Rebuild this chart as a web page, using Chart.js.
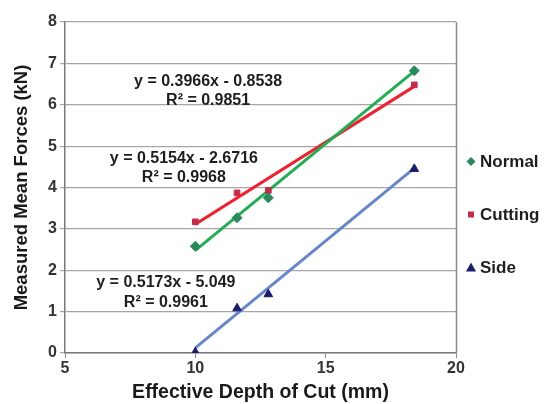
<!DOCTYPE html>
<html>
<head>
<meta charset="utf-8">
<script src="https://cdn.jsdelivr.net/npm/chart.js@4/dist/chart.umd.min.js"></script>
<style>
  html,body{margin:0;padding:0;background:#fff;}
  #wrap{width:545px;height:404px;position:relative;}
</style>
</head>
<body>
<div id="wrap"><canvas id="c" width="545" height="404"></canvas></div>
<script>
// ---- data ----
const seriesNames = ['Normal', 'Cutting', 'Side'];
const depthOfCut = [10, 11.6, 12.8, 18.4];            // mm
const normalForce = [2.58, 3.27, 3.75, 6.82];          // kN
const cuttingForce = [3.17, 3.87, 3.93, 6.48];         // kN
const sideForce = [0.02, 1.08, 1.42, 4.45];            // kN
// linear trendlines as printed on the chart
const trendSlopes = [0.5154, 0.3966, 0.5173];
const trendIntercepts = [-2.6716, -0.8538, -5.049];
const trendR2 = ['0.9968', '0.9851', '0.9961'];
const trendEqText = ['y = 0.5154x - 2.6716', 'y = 0.3966x - 0.8538', 'y = 0.5173x - 5.049'];
const xTicks = [5, 10, 15, 20];
const yTicks = [0, 1, 2, 3, 4, 5, 6, 7, 8];

// ---- styling / placement (not data) ----
const markerColors = ['#2a8a5e', '#c62a48', '#1b1b6e'];
const markerStyles = ['rectRot', 'rect', 'triangle'];
const markerRadius = [5, 4, 5];
const lineColors = ['#1fae52', '#f41f2c', '#6586cc'];
// equation label anchors in data units (centre of first and second line)
const labelX = [9.56, 10.49, 8.87];
const labelY1 = [4.71, 6.55, 1.69];
const labelY2 = [4.25, 6.11, 1.23];

const allY = [normalForce, cuttingForce, sideForce];
const FONT = '"Liberation Sans", Arial, Helvetica, sans-serif';

const datasets = [];
// trendlines (drawn underneath)
allY.forEach((ys, i) => {
  const x0 = Math.min(...depthOfCut), x1 = Math.max(...depthOfCut);
  datasets.push({
    label: seriesNames[i] + ' trend',
    data: [x0, x1].map(x => ({x: x, y: trendSlopes[i] * x + trendIntercepts[i]})),
    showLine: true,
    borderColor: lineColors[i],
    borderWidth: 3,
    pointRadius: 0,
    pointHoverRadius: 0,
    fill: false,
    order: 2
  });
});
// markers
allY.forEach((ys, i) => {
  datasets.push({
    label: seriesNames[i],
    data: depthOfCut.map((x, k) => ({x: x, y: ys[k]})),
    showLine: false,
    pointStyle: markerStyles[i],
    pointRadius: markerRadius[i],
    backgroundColor: markerColors[i],
    borderColor: markerColors[i],
    borderWidth: 1,
    order: 1
  });
});

const framePlugin = {
  id: 'frame',
  beforeDatasetsDraw(chart) {
    const {ctx, chartArea: a} = chart;
    ctx.save();
    ctx.strokeStyle = '#8a8a8a';
    ctx.lineWidth = 1.5;
    ctx.beginPath();
    ctx.moveTo(a.right + 0.5, a.top);
    ctx.lineTo(a.right + 0.5, a.bottom);
    ctx.stroke();
    ctx.restore();
  }
};

const labelsPlugin = {
  id: 'eqLabels',
  afterDatasetsDraw(chart) {
    const {ctx} = chart;
    const xs = chart.scales.x, ys = chart.scales.y;
    ctx.save();
    ctx.fillStyle = '#1e1e1e';
    ctx.font = 'bold 16px ' + FONT;
    ctx.textAlign = 'center';
    ctx.textBaseline = 'middle';
    for (let i = 0; i < trendEqText.length; i++) {
      const px = xs.getPixelForValue(labelX[i]);
      ctx.fillText(trendEqText[i], px, ys.getPixelForValue(labelY1[i]));
      ctx.fillText('R\u00B2 = ' + trendR2[i], px, ys.getPixelForValue(labelY2[i]));
    }
    ctx.restore();
  }
};

const legendPlugin = {
  id: 'sideLegend',
  afterDraw(chart) {
    const {ctx, chartArea: a} = chart;
    const mid = (a.top + a.bottom) / 2;
    const gap = 53;
    const startY = mid - 26;
    ctx.save();
    ctx.font = 'bold 17px ' + FONT;
    ctx.textBaseline = 'middle';
    ctx.textAlign = 'left';
    for (let i = 0; i < seriesNames.length; i++) {
      const cy = startY + i * gap;
      const mx = a.right + 15;
      ctx.fillStyle = markerColors[i];
      ctx.beginPath();
      if (markerStyles[i] === 'rectRot') {
        ctx.moveTo(mx, cy - 4.5); ctx.lineTo(mx + 4.5, cy); ctx.lineTo(mx, cy + 4.5); ctx.lineTo(mx - 4.5, cy);
      } else if (markerStyles[i] === 'rect') {
        ctx.rect(mx - 3, cy - 3, 6, 6);
      } else {
        ctx.moveTo(mx, cy - 5); ctx.lineTo(mx + 5, cy + 4); ctx.lineTo(mx - 5, cy + 4);
      }
      ctx.closePath();
      ctx.fill();
      ctx.fillStyle = '#1e1e1e';
      ctx.fillText(seriesNames[i], mx + 9, cy + 1);
    }
    ctx.restore();
  }
};

new Chart(document.getElementById('c'), {
  type: 'scatter',
  data: {datasets: datasets},
  plugins: [framePlugin, labelsPlugin, legendPlugin],
  options: {
    responsive: false,
    animation: false,
    layout: {padding: {top: 22, right: 89, bottom: 0, left: 0}},
    plugins: {legend: {display: false}, tooltip: {enabled: false}},
    scales: {
      x: {
        type: 'linear',
        min: xTicks[0], max: xTicks[xTicks.length - 1],
        afterBuildTicks(scale) { scale.ticks = xTicks.map(v => ({value: v})); },
        afterFit(scale) { scale.height = 51; },
        grid: {drawOnChartArea: false, drawTicks: true, tickLength: 5, color: '#8a8a8a', lineWidth: 1},
        border: {display: true, color: '#7a7a7a', width: 1.5},
        ticks: {color: '#333', font: {family: FONT, size: 16, weight: 'bold'}, padding: 1, maxRotation: 0},
        title: {display: true, text: 'Effective Depth of Cut (mm)', color: '#1a1a1a',
                font: {family: FONT, size: 19.5, weight: 'bold'}, padding: {top: 0, bottom: 0}}
      },
      y: {
        type: 'linear',
        min: yTicks[0], max: yTicks[yTicks.length - 1],
        afterBuildTicks(scale) { scale.ticks = yTicks.map(v => ({value: v})); },
        afterFit(scale) { scale.width = 65; },
        grid: {color: '#a6a6a6', lineWidth: 1.2, tickLength: 5},
        border: {display: true, color: '#7a7a7a', width: 1.5},
        ticks: {color: '#333', font: {family: FONT, size: 16, weight: 'bold'}, padding: 3},
        title: {display: true, text: 'Measured Mean Forces (kN)', color: '#1a1a1a',
                font: {family: FONT, size: 18.5, weight: 'bold'}, padding: {top: 11, bottom: 0}}
      }
    }
  }
});
</script>
</body>
</html>
